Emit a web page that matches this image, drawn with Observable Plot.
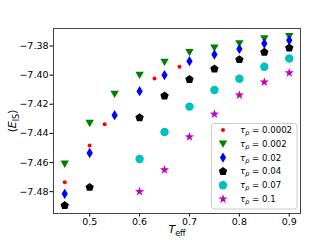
<!DOCTYPE html>
<html><head><meta charset="utf-8">
<script src="https://cdn.jsdelivr.net/npm/d3@7"></script>
<script src="https://cdn.jsdelivr.net/npm/@observablehq/plot@0.6"></script>
<style>
html,body{margin:0;padding:0;background:#fff;}
#wrap{position:relative;width:320px;height:240px;overflow:hidden;}
</style></head><body><div id="wrap"></div>
<script>
// ---- data ----
const tauLabels = ["0.0002","0.002","0.02","0.04","0.07","0.1"];
const xTicks = [0.5,0.6,0.7,0.8,0.9];
const yTicks = [-7.48,-7.46,-7.44,-7.42,-7.40,-7.38];

const x_0002 = [0.45,0.5,0.53,0.63,0.68];
const y_0002 = [-7.4735,-7.4483,-7.4337,-7.4023,-7.3943];
const x_002 = [0.45,0.5,0.55,0.6,0.65,0.7,0.75,0.8,0.85,0.9];
const y_002 = [-7.461,-7.433,-7.413,-7.400,-7.391,-7.3843,-7.3813,-7.3783,-7.375,-7.3734];
const x_02 = [0.45,0.5,0.55,0.6,0.65,0.7,0.75,0.8,0.85,0.9];
const y_02 = [-7.4815,-7.4535,-7.4275,-7.411,-7.400,-7.3904,-7.3859,-7.382,-7.3783,-7.3761];
const x_04 = [0.45,0.5,0.6,0.65,0.7,0.75,0.8,0.85,0.9];
const y_04 = [-7.4895,-7.477,-7.4292,-7.4143,-7.403,-7.3957,-7.3893,-7.3843,-7.3813];
const x_07 = [0.6,0.65,0.7,0.75,0.8,0.85,0.9];
const y_07 = [-7.4576,-7.439,-7.4216,-7.4102,-7.4025,-7.3943,-7.3886];
const x_1 = [0.6,0.65,0.7,0.75,0.8,0.85,0.9];
const y_1 = [-7.480,-7.465,-7.4424,-7.4268,-7.4137,-7.4048,-7.3984];

const seriesX = [x_0002,x_002,x_02,x_04,x_07,x_1];
const seriesY = [y_0002,y_002,y_02,y_04,y_07,y_1];

// ---- custom symbols (size = PI r^2) ----
const rad = s => Math.sqrt(s/Math.PI);
const triDown = {draw(c,s){const r=rad(s);c.moveTo(-r,-0.8*r);c.lineTo(r,-0.8*r);c.lineTo(0,0.95*r);c.closePath();}};
const thinDiamond = {draw(c,s){const r=rad(s);c.moveTo(0,-r);c.lineTo(0.6*r,0);c.lineTo(0,r);c.lineTo(-0.6*r,0);c.closePath();}};
const pentagon = {draw(c,s){const r=rad(s);for(let k=0;k<5;k++){const a=-Math.PI/2+k*2*Math.PI/5;const px=r*Math.cos(a),py=r*Math.sin(a);k?c.lineTo(px,py):c.moveTo(px,py);}c.closePath();}};
const star5 = {draw(c,s){const r=rad(s);for(let k=0;k<10;k++){const a=-Math.PI/2+k*Math.PI/5;const rr=k%2?0.4*r:r;const px=rr*Math.cos(a),py=rr*Math.sin(a);k?c.lineTo(px,py):c.moveTo(px,py);}c.closePath();}};
const circ = {draw(c,s){const r=rad(s);c.moveTo(r,0);c.arc(0,0,r,0,2*Math.PI);}};

const styles = [
  {color:"#ff0000", symbol:circ, r:2},
  {color:"#008000", symbol:triDown, r:4.2},
  {color:"#0000ff", symbol:thinDiamond, r:5.2},
  {color:"#000000", symbol:pentagon, r:4.4},
  {color:"#00bfbf", symbol:circ, r:4.2},
  {color:"#bf00bf", symbol:star5, r:4.8}
];

const dots = seriesX.map((xs,i) => Plot.dot(
  xs.map((x,j)=>({x, y: seriesY[i][j]})),
  {x:"x", y:"y", fill: styles[i].color, stroke:"none", symbol: styles[i].symbol, r: styles[i].r}
));

const chart = Plot.plot({
  width:320, height:240,
  marginLeft:53, marginRight:20, marginTop:28, marginBottom:27,
  style:{fontFamily:"DejaVu Sans", fontSize:"9.5px", color:"#000", background:"#fff", overflow:"visible"},
  x:{domain:[0.4275,0.9225], ticks:xTicks, tickFormat:d3.format(".1f"), tickSize:3.5, tickPadding:1, label:null},
  y:{domain:[-7.495,-7.368], ticks:yTicks, tickFormat:d3.format(".2f"), tickSize:3.5, tickPadding:1.5, label:null},
  marks:[
    Plot.frame({stroke:"#444"}),
    ...dots
  ]
});
document.getElementById("wrap").appendChild(chart);

// ---- axis labels & legend ----
const svg = d3.select(chart);
const xl = svg.append("text").attr("x",177).attr("y",233).attr("text-anchor","middle")
  .attr("font-family","DejaVu Sans").attr("font-size","11px").attr("fill","#000");
xl.append("tspan").attr("font-style","italic").text("T");
xl.append("tspan").attr("font-size","8px").attr("dy","2.5").text("eff");

const yl = svg.append("text").attr("transform","translate(16,121) rotate(-90)").attr("text-anchor","middle")
  .attr("font-family","DejaVu Sans").attr("font-size","11px").attr("fill","#000");
yl.append("tspan").text("⟨");
yl.append("tspan").attr("font-style","italic").text("E");
yl.append("tspan").attr("font-size","8px").attr("dy","2.5").text("IS");
yl.append("tspan").attr("dy","-2.5").text("⟩");

const lg = svg.append("g").attr("transform","translate(211,123)").attr("text-anchor","start");
lg.append("rect").attr("x",0.5).attr("y",0.5).attr("width",85.5).attr("height",85.5).attr("rx",2.5)
  .attr("fill","#fff").attr("fill-opacity",0.8).attr("stroke","#cccccc").attr("stroke-width",1);
tauLabels.forEach((lab,i) => {
  const cy = 7 + i*13.8;
  const st = styles[i];
  lg.append("path").attr("transform",`translate(12,${cy})`)
    .attr("d", d3.symbol(st.symbol, st.r*st.r*Math.PI)()).attr("fill", st.color);
  const t = lg.append("text").attr("x",29).attr("y",cy+3).attr("text-anchor","start")
    .attr("font-family","DejaVu Sans").attr("font-size","8.6px").attr("fill","#000");
  t.append("tspan").attr("font-style","italic").text("τ");
  t.append("tspan").attr("font-style","italic").attr("font-size","6.5px").attr("dy","2").text("p");
  t.append("tspan").attr("dy","-2").text(" = " + lab);
});
</script></body></html>
